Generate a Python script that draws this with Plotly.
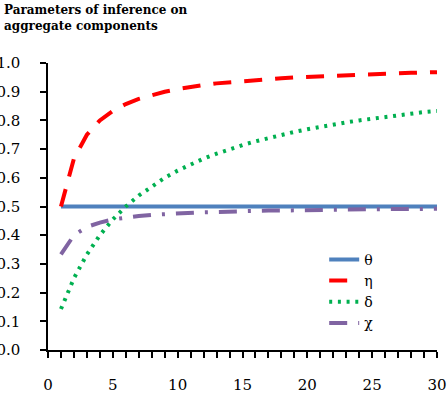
import plotly.graph_objects as go

n = list(range(1, 31))
theta = [0.5] * 30
eta = [0.500, 0.667, 0.750, 0.800, 0.833, 0.857, 0.875, 0.889, 0.900, 0.909,
       0.917, 0.923, 0.929, 0.933, 0.938, 0.941, 0.944, 0.947, 0.950, 0.952,
       0.955, 0.957, 0.958, 0.960, 0.962, 0.963, 0.964, 0.966, 0.967, 0.968]
delta = [0.143, 0.250, 0.333, 0.400, 0.455, 0.500, 0.538, 0.571, 0.600, 0.625,
         0.647, 0.667, 0.684, 0.700, 0.714, 0.727, 0.739, 0.750, 0.760, 0.769,
         0.778, 0.786, 0.793, 0.800, 0.806, 0.813, 0.818, 0.824, 0.829, 0.833]
chi = [0.333, 0.400, 0.429, 0.444, 0.455, 0.462, 0.467, 0.471, 0.474, 0.476,
       0.478, 0.480, 0.481, 0.483, 0.484, 0.485, 0.486, 0.486, 0.487, 0.488,
       0.488, 0.489, 0.489, 0.490, 0.490, 0.491, 0.491, 0.491, 0.492, 0.492]

names = ["θ", "η", "δ", "χ"]
colors = ["#4F81BD", "#FF0000", "#00B050", "#8064A2"]
dashes = ["solid", "18px,13px", "3px,5.7px", "18px,11px,3px,11px"]
series = [theta, eta, delta, chi]

FONT = "DejaVu Serif"

fig = go.Figure()
for nm, c, d, s in zip(names, colors, dashes, series):
    fig.add_trace(go.Scatter(x=n, y=s, mode="lines", name=nm,
                             line=dict(color=c, width=4, dash=d)))

fig.add_annotation(text="<b>Parameters of inference on<br>aggregate components</b>",
                   xref="paper", yref="paper", x=-0.117, y=1.215,
                   xanchor="left", yanchor="top", align="left", showarrow=False,
                   font=dict(family=FONT, size=12, color="black"))

fig.update_layout(
    width=447, height=398,
    margin=dict(l=48, r=10, t=63, b=48),
    paper_bgcolor="white", plot_bgcolor="white",
    font=dict(family=FONT, size=15, color="black"),
    showlegend=True,
    legend=dict(x=0.71, y=0.37, xanchor="left", yanchor="top",
                bgcolor="rgba(0,0,0,0)", font=dict(family=FONT, size=14),
                itemwidth=30),
    xaxis=dict(range=[0, 30], tickmode="array", tickvals=[0, 5, 10, 15, 20, 25, 30],
               ticktext=["0", "5", "10", "15", "20", "25", "30"],
               ticks="outside", ticklen=6, tickwidth=1.5, tickcolor="black",
               minor=dict(dtick=1, ticks="outside", ticklen=6, tickwidth=1.5, tickcolor="black"),
               showline=True, linecolor="black", linewidth=1.5,
               showgrid=False, zeroline=False, automargin=False,
               ticklabelstandoff=14),
    yaxis=dict(range=[0, 1], tickmode="linear", tick0=0, dtick=0.1, tickformat=".1f",
               ticks="outside", ticklen=6, tickwidth=1.5, tickcolor="black",
               showline=True, linecolor="black", linewidth=1.5,
               showgrid=False, zeroline=False, automargin=False,
               ticklabelstandoff=17),
)

fig.write_html("out.html")
